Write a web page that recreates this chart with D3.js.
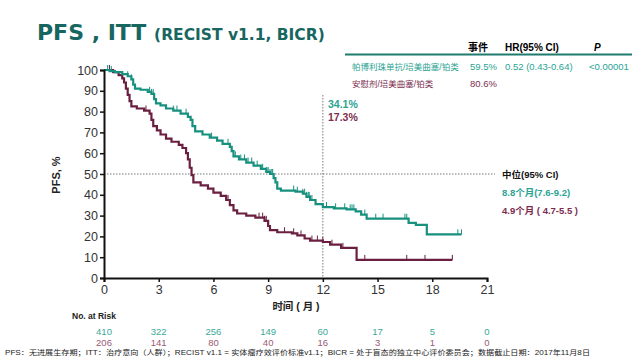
<!DOCTYPE html>
<html>
<head>
<meta charset="utf-8">
<script src="https://cdn.jsdelivr.net/npm/d3@7"></script>
<style>
  body { margin: 0; background: #fff; }
  svg text { font-family: "Liberation Sans", Arial, "Noto Sans CJK SC", sans-serif; }
  .cjk { font-family: "Liberation Sans", "Noto Sans CJK SC", sans-serif; }
</style>
</head>
<body>
<svg id="chart" width="640" height="361"></svg>
<script>
// ---- data ----
const xTicks = [0, 3, 6, 9, 12, 15, 18, 21];
const yTicks = [0, 10, 20, 30, 40, 50, 60, 70, 80, 90, 100];

// pembrolizumab arm: [month, PFS %] steps
const pembroSteps = [
  [0, 100], [0.3, 99.5], [0.6, 99], [1.0, 98], [1.3, 97], [1.5, 95.5], [1.6, 93], [1.7, 91],
  [2.0, 90.5], [2.4, 89.5], [2.6, 88.5], [2.75, 86], [2.85, 84], [3.1, 83], [3.4, 81.5],
  [3.8, 80.5], [4.2, 79], [4.6, 77.5], [4.75, 76], [4.85, 73], [5.0, 70.5], [5.4, 69],
  [5.8, 67.5], [6.2, 66], [6.5, 64.5], [6.9, 63], [7.0, 61], [7.1, 58.5], [7.4, 57],
  [7.8, 55.5], [8.2, 54], [8.6, 52.5], [8.9, 51], [9.1, 50], [9.3, 48], [9.4, 46],
  [9.5, 43], [9.7, 42], [10.5, 41.5], [10.9, 40.5], [11.1, 39], [11.3, 37.5], [11.6, 35.5],
  [12.0, 34.1], [12.6, 33.5], [13.3, 33], [13.8, 32], [14.1, 30.5], [14.4, 28.5],
  [16.7, 26.5], [17.1, 25.5], [17.7, 21], [19.6, 21]
];
const pembroCensor = [0.2, 0.4, 1.3, 1.5, 2.5, 2.6, 2.7, 3.8, 4.0, 4.5, 5.9, 6.8, 7.0, 7.2,
  7.5, 7.7, 7.9, 8.1, 8.4, 8.7, 8.9, 9.0, 9.1, 9.2, 9.25, 9.3, 10.4, 10.6, 10.9, 11.0, 11.1,
  11.2, 11.25, 11.3, 11.4, 12.2, 12.7, 13.2, 13.5, 13.6, 13.7, 14.3, 14.9, 15.3, 16.5, 16.6,
  16.7, 19.4, 19.6];

// placebo arm
const placeboSteps = [
  [0, 100], [0.5, 99], [0.8, 97.5], [1.0, 96], [1.1, 94], [1.2, 91], [1.3, 88], [1.4, 85],
  [1.5, 82.5], [1.8, 81.5], [2.2, 80.5], [2.5, 79], [2.6, 76], [2.7, 73], [2.9, 71],
  [3.1, 69], [3.4, 67], [3.7, 65.5], [4.1, 64], [4.3, 62.5], [4.5, 60], [4.6, 57], [4.7, 53],
  [4.8, 49.5], [4.9, 46], [5.3, 44.5], [5.7, 43], [6.0, 41], [6.4, 39.5], [6.7, 37.5],
  [6.9, 35], [7.1, 32.5], [7.3, 31], [7.8, 30], [8.3, 29], [8.8, 27.5], [9.0, 25],
  [9.1, 23], [9.5, 22], [10.3, 21.5], [10.6, 20.5], [11.0, 19], [11.3, 18], [12.0, 17.3],
  [12.4, 16], [13.0, 14.5], [13.85, 8.7], [19.1, 8.7]
];
const placeboCensor = [0.3, 2.3, 6.7, 6.8, 8.5, 8.7, 8.8, 8.9, 9.9, 10.4, 10.8, 11.4, 11.7,
  12.0, 12.5, 13.1, 14.3, 16.6, 17.6, 19.1];

const riskPembro = [410, 322, 256, 149, 60, 17, 5, 0];
const riskPlacebo = [206, 141, 80, 40, 16, 3, 1, 0];

const teal = "#17907f", purple = "#6b1f40";
const tealText = "#2aa393", purpleText = "#7b2e50";

// ---- layout ----
const svg = d3.select("#chart");
const x = d3.scaleLinear().domain([0, 21]).range([104, 487]);
const y = d3.scaleLinear().domain([0, 100]).range([278, 70]);

// title
const title = svg.append("text").attr("x", 37).attr("y", 40)
  .style("font-family", "'DejaVu Sans', Verdana, sans-serif")
  .attr("font-weight", "bold").attr("fill", "#17665f");
title.append("tspan").attr("font-size", 22).text("PFS , ITT ");
title.append("tspan").attr("font-size", 15.5).attr("dx", 0).text("(RECIST v1.1, BICR)");

// legend table
const lg = svg.append("g").style("font-family", "'DejaVu Sans', 'Noto Sans CJK SC', sans-serif");
lg.append("text").attr("x", 468).attr("y", 51).attr("font-size", 10).attr("font-weight", "bold")
  .attr("class", "cjk").text("事件");
lg.append("text").attr("x", 505).attr("y", 51).attr("font-size", 10).attr("font-weight", "bold").text("HR(95% CI)");
lg.append("text").attr("x", 594).attr("y", 51).attr("font-size", 10).attr("font-weight", "bold")
  .attr("font-style", "italic").text("P");
lg.append("line").attr("x1", 345).attr("x2", 632).attr("y1", 54.5).attr("y2", 54.5)
  .attr("stroke", "#1f7a70").attr("stroke-width", 1.8);
lg.append("text").attr("x", 352).attr("y", 70).attr("font-size", 8.5).attr("fill", tealText)
  .attr("class", "cjk").text("帕博利珠单抗/培美曲塞/铂类");
lg.append("text").attr("x", 470).attr("y", 70).attr("font-size", 9.5).attr("fill", tealText).text("59.5%");
lg.append("text").attr("x", 505).attr("y", 70).attr("font-size", 9.5).attr("fill", tealText).text("0.52 (0.43-0.64)");
lg.append("text").attr("x", 589).attr("y", 70).attr("font-size", 9.5).attr("fill", tealText).text("<0.00001");
lg.append("text").attr("x", 352).attr("y", 87).attr("font-size", 8.5).attr("fill", purpleText)
  .attr("class", "cjk").text("安慰剂/培美曲塞/铂类");
lg.append("text").attr("x", 470).attr("y", 87).attr("font-size", 9.5).attr("fill", purpleText).text("80.6%");

// reference lines
svg.append("line").attr("x1", x(0)).attr("x2", 495).attr("y1", y(50)).attr("y2", y(50))
  .attr("stroke", "#777").attr("stroke-width", 1).attr("stroke-dasharray", "1.5,1.5");
svg.append("line").attr("x1", x(12)).attr("x2", x(12)).attr("y1", 95).attr("y2", y(0))
  .attr("stroke", "#777").attr("stroke-width", 1).attr("stroke-dasharray", "1.5,1.5");

// curves
const line = d3.line().x(d => x(d[0])).y(d => y(d[1])).curve(d3.curveStepAfter);
function survAt(steps, t) {
  let v = steps[0][1];
  for (const s of steps) { if (s[0] <= t) v = s[1]; }
  return v;
}
function drawArm(steps, censor, color) {
  svg.append("path").datum(steps).attr("d", line)
    .attr("fill", "none").attr("stroke", color).attr("stroke-width", 2.2);
  svg.selectAll(null).data(censor).enter().append("line")
    .attr("x1", d => x(d)).attr("x2", d => x(d))
    .attr("y1", d => y(survAt(steps, d))).attr("y2", d => y(survAt(steps, d)) - 5)
    .attr("stroke", color).attr("stroke-width", 1);
}
drawArm(placeboSteps, placeboCensor, purple);
drawArm(pembroSteps, pembroCensor, teal);

// axes
const xAxis = svg.append("g").attr("transform", `translate(0,${y(0)})`)
  .call(d3.axisBottom(x).tickValues(xTicks).tickSize(4).tickPadding(3));
const yAxis = svg.append("g").attr("transform", `translate(${x(0)},0)`)
  .call(d3.axisLeft(y).tickValues(yTicks).tickSize(4).tickPadding(2));
[xAxis, yAxis].forEach(a => {
  a.select(".domain").attr("stroke", "#111").attr("stroke-width", 2);
  a.selectAll(".tick line").attr("stroke", "#111").attr("stroke-width", 1.5);
  a.selectAll("text").attr("font-size", 12.5).attr("fill", "#333")
    .style("font-family", "'Liberation Sans', Arial, sans-serif");
});

// axis titles
svg.append("text").attr("transform", `translate(60,175) rotate(-90)`)
  .attr("text-anchor", "middle").attr("font-size", 11).attr("font-weight", "bold")
  .attr("fill", "#222").text("PFS, %");
svg.append("text").attr("x", 296).attr("y", 310).attr("text-anchor", "middle")
  .attr("font-size", 10.5).attr("font-weight", "bold").attr("class", "cjk")
  .attr("fill", "#222").text("时间 ( 月 )");

// landmark labels
svg.append("text").attr("x", 328).attr("y", 108).attr("font-size", 10.5).attr("font-weight", "bold")
  .attr("fill", tealText).text("34.1%");
svg.append("text").attr("x", 328).attr("y", 121).attr("font-size", 10.5).attr("font-weight", "bold")
  .attr("fill", purpleText).text("17.3%");

// median labels
const med = svg.append("g").attr("class", "cjk").attr("font-weight", "bold");
med.append("text").attr("x", 502).attr("y", 178).attr("font-size", 9.5).attr("fill", "#111").text("中位(95% CI)");
med.append("text").attr("x", 502).attr("y", 196).attr("font-size", 9.5).attr("fill", tealText).text("8.8个月(7.6-9.2)");
med.append("text").attr("x", 502).attr("y", 214).attr("font-size", 9.5).attr("fill", purpleText).text("4.9个月 ( 4.7-5.5 )");

// risk table
svg.append("text").attr("x", 72).attr("y", 319).attr("font-size", 8.5).attr("font-weight", "bold")
  .attr("fill", "#222").text("No. at Risk");
svg.selectAll(".riskA").data(riskPembro).enter().append("text")
  .attr("x", (d, i) => x(xTicks[i])).attr("y", 335).attr("text-anchor", "middle")
  .attr("font-size", 9.5).attr("fill", "#3aa898").text(d => d);
svg.selectAll(".riskB").data(riskPlacebo).enter().append("text")
  .attr("x", (d, i) => x(xTicks[i])).attr("y", 346).attr("text-anchor", "middle")
  .attr("font-size", 9.5).attr("fill", "#9a5a74").text(d => d);

// footnote
svg.append("text").attr("x", 5).attr("y", 355).attr("font-size", 7.2).attr("class", "cjk")
  .attr("fill", "#222").attr("textLength", 585).attr("lengthAdjust", "spacingAndGlyphs")
  .text("PFS：无进展生存期；ITT：治疗意向（人群）；RECIST v1.1 = 实体瘤疗效评价标准v1.1；BICR = 处于盲态的独立中心评价委员会；数据截止日期：2017年11月8日");
</script>
</body>
</html>
